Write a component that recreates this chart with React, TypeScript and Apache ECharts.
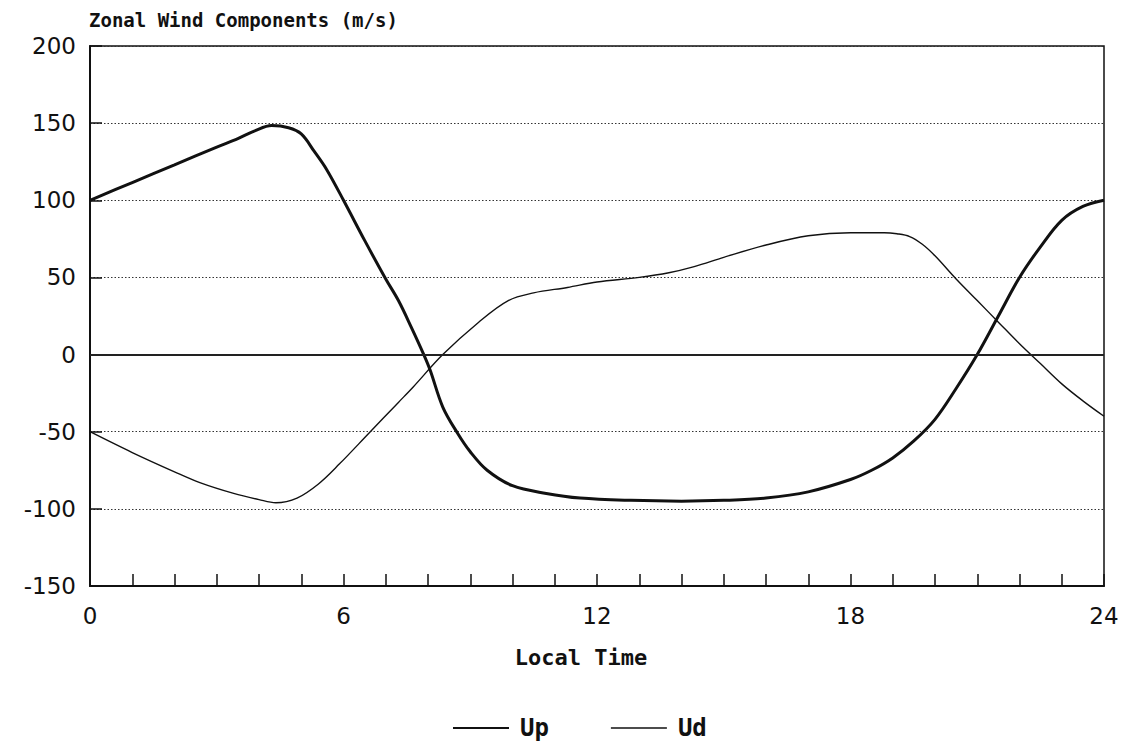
import React, { useEffect, useRef } from "react";
import * as echarts from "echarts";

const upX = [0, 1, 2, 3, 3.5, 3.9, 4.3, 4.7, 5, 5.3, 5.6, 6, 6.5, 7, 7.3, 7.6, 7.9, 8.05, 8.35, 8.7, 9, 9.4, 10, 10.8, 11.6, 12.8, 14, 15, 16, 17, 18, 18.5, 19, 19.5, 20, 20.5, 21, 21.5, 22, 22.5, 23, 23.5, 24];
const upY = [100, 111.5, 123, 134.5, 140, 145, 148.4, 147, 143, 132, 120, 100, 74, 49, 35, 18, 0, -10, -34, -51, -63, -75, -85, -90, -93, -94.5, -95, -94.5, -93, -89, -81, -75, -67, -56, -42, -22, 0, 25, 50, 70, 87, 96, 100];

const udX = [0, 1, 2, 2.6, 3.4, 4, 4.4, 4.9, 5.4, 5.9, 6.6, 7.3, 7.65, 8.35, 9.2, 9.9, 10.5, 11.3, 12, 13, 13.7, 14.3, 15, 16, 17, 18, 18.8, 19.1, 19.4, 19.7, 20, 20.5, 21, 21.5, 22, 22.5, 23, 23.5, 24];
const udY = [-50, -63.5, -76, -83, -90, -94, -96, -93, -84, -71, -51, -31, -21, 0, 21, 35, 40, 43.5, 47, 50, 53, 57, 63, 71, 77, 79, 79, 78.3, 76.5, 71.5, 64, 49, 35, 21, 7, -6, -19, -30, -40];

const xLabels = [0, 6, 12, 18, 24];
const yTicks = [200, 150, 100, 50, 0, -50, -100, -150];
const seriesNames = ["Up", "Ud"];
const titleText = "Zonal Wind Components (m/s)";
const xName = "Local Time";

export default function App() {
  const ref = useRef<HTMLDivElement>(null);
  useEffect(() => {
    if (!ref.current) return;
    const chart = echarts.init(ref.current, undefined, { renderer: "svg" });
    const mono = "'DejaVu Sans Mono', monospace";
    const sans = "'DejaVu Sans', sans-serif";
    chart.setOption({
      animation: false,
      backgroundColor: "#fff",
      title: {
        text: titleText,
        left: 84,
        top: 5,
        textStyle: { fontFamily: mono, fontSize: 19, fontWeight: "bold", color: "#111" },
      },
      legend: {
        bottom: 4,
        left: 448,
        itemWidth: 56,
        itemHeight: 14,
        itemGap: 62,
        data: seriesNames.map((n, i) => ({
          name: n,
          icon: "path://M0,0 H56 V" + (i === 0 ? 2 : 1.4) + " H0 Z",
        })),
        textStyle: { fontFamily: mono, fontSize: 24, fontWeight: "bold", color: "#111", width: 48, padding: [0, 0, 0, 6] },
      },
      grid: {
        left: 90,
        right: 23,
        top: 46,
        bottom: 163,
        show: true,
        borderColor: "#111",
        borderWidth: 1.5,
        backgroundColor: "transparent",
      },
      xAxis: {
        type: "value",
        min: 0,
        max: 24,
        interval: 1,
        name: xName,
        nameLocation: "middle",
        nameGap: 60,
        nameTextStyle: { fontFamily: mono, fontSize: 22, fontWeight: "bold", color: "#111", padding: [0, 32, 0, 0] },
        axisLine: { show: true, onZero: false, lineStyle: { color: "#111", width: 2 } },
        axisTick: { show: true, inside: true, length: 12, lineStyle: { color: "#111", width: 1.5 } },
        axisLabel: {
          margin: 18,
          fontFamily: sans,
          fontSize: 23,
          color: "#111",
          formatter: (v: number) => (xLabels.includes(v) ? String(v) : ""),
        },
        splitLine: { show: false },
      },
      yAxis: {
        type: "value",
        min: -150,
        max: 200,
        interval: 50,
        axisLine: { show: true, onZero: false, lineStyle: { color: "#111", width: 2 } },
        axisTick: { show: true, inside: true, length: 12, lineStyle: { color: "#111", width: 1.5 } },
        axisLabel: {
          margin: 14,
          fontFamily: sans,
          fontSize: 23,
          color: "#111",
          formatter: (v: number) => (yTicks.includes(v) ? String(v) : ""),
        },
        splitLine: { show: true, lineStyle: { color: "#333", width: 1, type: [1.5, 2] } },
      },
      series: [
        {
          name: seriesNames[0],
          type: "line",
          data: upX.map((x, i) => [x, upY[i]]),
          smooth: 0.35,
          symbol: "none",
          lineStyle: { color: "#111", width: 3 },
          itemStyle: { color: "#111" },
          z: 3,
          markLine: {
            silent: true,
            symbol: "none",
            label: { show: false },
            lineStyle: { color: "#222", width: 2, type: "solid" },
            data: [{ yAxis: 0 }],
          },
        },
        {
          name: seriesNames[1],
          type: "line",
          data: udX.map((x, i) => [x, udY[i]]),
          smooth: 0.35,
          symbol: "none",
          lineStyle: { color: "#111", width: 1.4 },
          itemStyle: { color: "#111" },
          z: 3,
        },
      ],
    });
    return () => chart.dispose();
  }, []);
  return <div ref={ref} style={{ width: 1127, height: 749, position: "absolute", left: 0, top: 0 }} />;
}
